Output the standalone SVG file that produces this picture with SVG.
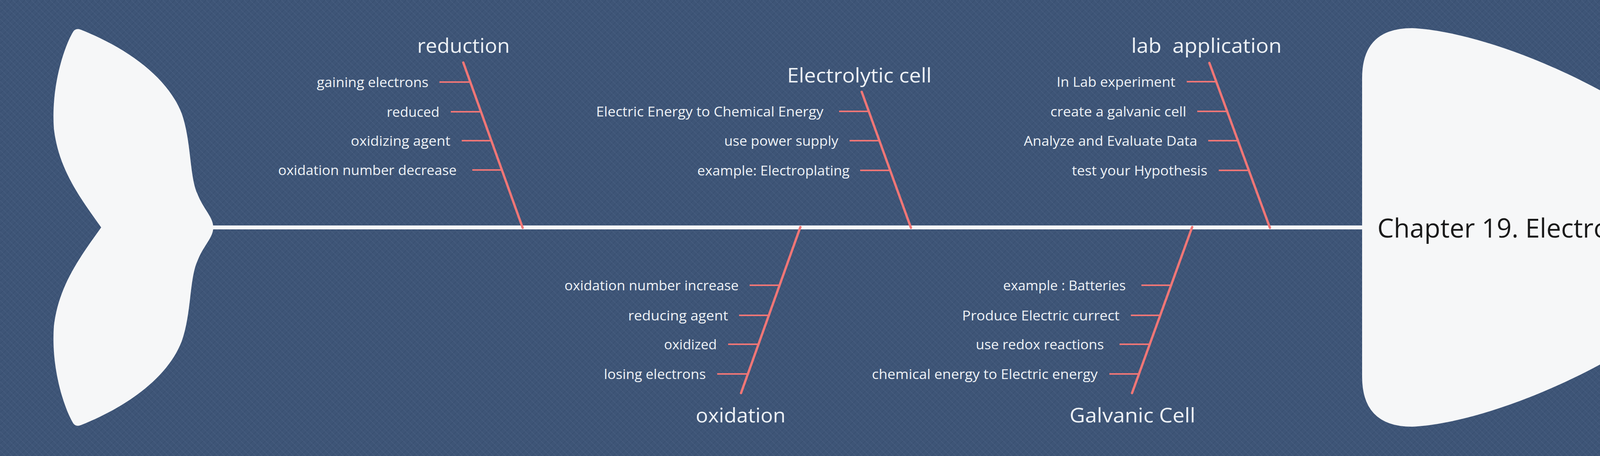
<svg xmlns="http://www.w3.org/2000/svg" width="4562" height="1167" viewBox="0 0 4562 1167">
<defs>
<pattern id="linen" width="16" height="16" patternUnits="userSpaceOnUse">
<rect width="16" height="16" fill="#3e5577"/>
<path d="M0,16 L16,0 M-4,4 L4,-4 M12,20 L20,12" stroke="#2f4566" stroke-width="2" opacity="0.35"/>
<path d="M0,0 L16,16 M-4,12 L4,20 M12,-4 L20,4" stroke="#5a7091" stroke-width="1.5" opacity="0.3"/>
</pattern>
<style>
.title{font-family:"Open Sans","Noto Sans",sans-serif;font-size:52px;fill:#eef2f6;text-anchor:end}
.sub{font-family:"Open Sans","Noto Sans",sans-serif;font-size:35px;fill:#eef2f6;text-anchor:end}
.head{font-family:"Open Sans","Noto Sans",sans-serif;font-size:68px;fill:#1a1a1a;text-anchor:start}
.bone{stroke:#f07676;stroke-width:6;stroke-linecap:round;fill:none}
.tick{stroke:#f07676;stroke-width:4;fill:none}
.spine{stroke:#f6f7f9;stroke-width:10;fill:none}
.fish{fill:#f6f7f8}
</style>
</defs>
<rect width="4562" height="1167" fill="url(#linen)"/>

<g id="connectors">
<line class="spine" x1="540" y1="582" x2="3492" y2="582"/>
<!-- reduction -->
<line class="bone" x1="1186" y1="160" x2="1338" y2="583"/>
<line class="tick" x1="1125" y1="210" x2="1204" y2="210"/>
<line class="tick" x1="1154" y1="286" x2="1231" y2="286"/>
<line class="tick" x1="1182" y1="360" x2="1258" y2="360"/>
<line class="tick" x1="1209" y1="435" x2="1285" y2="435"/>
<!-- electrolytic -->
<line class="bone" x1="2206" y1="235" x2="2332" y2="583"/>
<line class="tick" x1="2148" y1="285" x2="2224" y2="285"/>
<line class="tick" x1="2175" y1="360" x2="2251" y2="360"/>
<line class="tick" x1="2202" y1="436" x2="2278" y2="436"/>
<!-- lab application -->
<line class="bone" x1="3096" y1="161" x2="3251" y2="583"/>
<line class="tick" x1="3038" y1="209" x2="3114" y2="209"/>
<line class="tick" x1="3065" y1="285" x2="3141" y2="285"/>
<line class="tick" x1="3093" y1="360" x2="3169" y2="360"/>
<line class="tick" x1="3120" y1="436" x2="3197" y2="436"/>
<!-- oxidation -->
<line class="bone" x1="2049" y1="581" x2="1897" y2="1006"/>
<line class="tick" x1="1919" y1="730" x2="1996" y2="730"/>
<line class="tick" x1="1892" y1="807" x2="1968" y2="807"/>
<line class="tick" x1="1864" y1="881" x2="1942" y2="881"/>
<line class="tick" x1="1836" y1="957" x2="1915" y2="957"/>
<!-- galvanic -->
<line class="bone" x1="3052" y1="581" x2="2898" y2="1006"/>
<line class="tick" x1="2922" y1="730" x2="2998" y2="730"/>
<line class="tick" x1="2895" y1="807" x2="2970" y2="807"/>
<line class="tick" x1="2866" y1="881" x2="2943" y2="881"/>
<line class="tick" x1="2840" y1="957" x2="2916" y2="957"/>
</g>

<g id="tail">
<path class="fish" d="M259,582 C200,500 150,430 138,330 C130,220 165,120 185,85 Q192,70 207,76 C330,125 430,200 465,290 C490,360 485,450 505,495 C520,535 546,555 546,582 C546,609 520,629 505,669 C485,714 490,804 465,874 C430,964 330,1039 207,1088 Q192,1094 185,1079 C165,1044 130,944 138,834 C150,734 200,664 259,582 Z"/>
</g>

<g id="head">
<path class="fish" d="M3487,200 Q3487,72 3615,72 C3800,80 4150,220 4364,417 C4450,496 4508,540 4508,582 C4508,624 4450,668 4364,747 C4150,944 3800,1084 3615,1092 Q3487,1092 3487,964 Z"/>
<text class="head" x="3526" y="608" textLength="927" lengthAdjust="spacingAndGlyphs">Chapter 19. Electro Chemistry</text>
</g>

<g id="reduction">
<text class="title" x="1305" y="135" textLength="237" lengthAdjust="spacingAndGlyphs">reduction</text>
<text class="sub" x="1097" y="223" textLength="286" lengthAdjust="spacingAndGlyphs">gaining electrons</text>
<text class="sub" x="1125" y="299" textLength="135" lengthAdjust="spacingAndGlyphs">reduced</text>
<text class="sub" x="1153" y="373" textLength="255" lengthAdjust="spacingAndGlyphs">oxidizing agent</text>
<text class="sub" x="1169" y="448" textLength="457" lengthAdjust="spacingAndGlyphs">oxidation number decrease</text>
</g>

<g id="electrolytic-cell">
<text class="title" x="2385" y="211" textLength="370" lengthAdjust="spacingAndGlyphs">Electrolytic cell</text>
<text class="sub" x="2108" y="298" textLength="582" lengthAdjust="spacingAndGlyphs">Electric Energy to Chemical Energy</text>
<text class="sub" x="2146" y="373" textLength="292" lengthAdjust="spacingAndGlyphs">use power supply</text>
<text class="sub" x="2175" y="449" textLength="390" lengthAdjust="spacingAndGlyphs">example: Electroplating</text>
</g>

<g id="lab-application">
<text class="title" x="3281" y="135" textLength="385" lengthAdjust="spacingAndGlyphs" xml:space="preserve">lab  application</text>
<text class="sub" x="3009" y="222" textLength="304" lengthAdjust="spacingAndGlyphs">In Lab experiment</text>
<text class="sub" x="3037" y="298" textLength="348" lengthAdjust="spacingAndGlyphs">create a galvanic cell</text>
<text class="sub" x="3065" y="373" textLength="444" lengthAdjust="spacingAndGlyphs">Analyze and Evaluate Data</text>
<text class="sub" x="3091" y="449" textLength="347" lengthAdjust="spacingAndGlyphs">test your Hypothesis</text>
</g>

<g id="oxidation">
<text class="title" x="2011" y="1081" textLength="230" lengthAdjust="spacingAndGlyphs">oxidation</text>
<text class="sub" x="1891" y="743" textLength="446" lengthAdjust="spacingAndGlyphs">oxidation number increase</text>
<text class="sub" x="1864" y="820" textLength="256" lengthAdjust="spacingAndGlyphs">reducing agent</text>
<text class="sub" x="1835" y="894" textLength="135" lengthAdjust="spacingAndGlyphs">oxidized</text>
<text class="sub" x="1807" y="970" textLength="261" lengthAdjust="spacingAndGlyphs">losing electrons</text>
</g>

<g id="galvanic-cell">
<text class="title" x="3060" y="1081" textLength="322" lengthAdjust="spacingAndGlyphs">Galvanic Cell</text>
<text class="sub" x="2882" y="743" textLength="314" lengthAdjust="spacingAndGlyphs">example : Batteries</text>
<text class="sub" x="2866" y="820" textLength="403" lengthAdjust="spacingAndGlyphs">Produce Electric currect</text>
<text class="sub" x="2826" y="894" textLength="328" lengthAdjust="spacingAndGlyphs">use redox reactions</text>
<text class="sub" x="2810" y="970" textLength="578" lengthAdjust="spacingAndGlyphs">chemical energy to Electric energy</text>
</g>
</svg>
